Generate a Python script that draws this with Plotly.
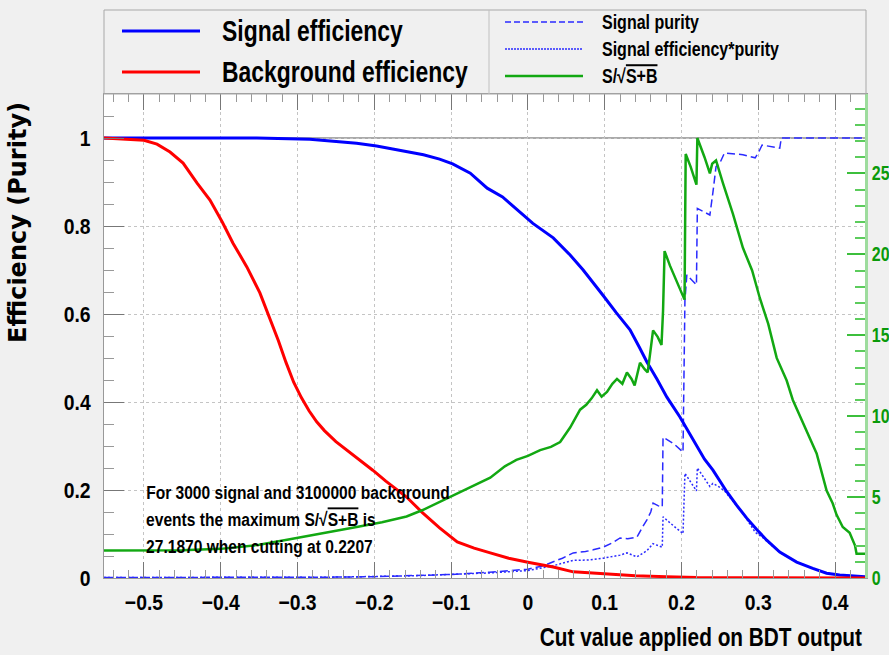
import plotly.graph_objects as go

# ---------------- data ----------------
cut_sig = [-0.552, -0.45, -0.353, -0.284, -0.254, -0.223, -0.197, -0.158, -0.136, -0.115,
           -0.098, -0.075, -0.053, -0.033, -0.010, 0.0065, 0.033, 0.055, 0.072, 0.091,
           0.098, 0.115, 0.133, 0.145, 0.155, 0.168, 0.181, 0.198, 0.210, 0.220,
           0.230, 0.241, 0.250, 0.259, 0.272, 0.285, 0.298, 0.311, 0.328, 0.350,
           0.371, 0.389, 0.406, 0.432, 0.439]
sig_eff = [1.0, 1.0, 1.0, 0.997, 0.993, 0.988, 0.982, 0.969, 0.962, 0.952,
           0.941, 0.920, 0.886, 0.866, 0.832, 0.806, 0.773, 0.734, 0.700, 0.659,
           0.642, 0.603, 0.564, 0.525, 0.491, 0.452, 0.411, 0.366, 0.330, 0.298,
           0.270, 0.245, 0.220, 0.196, 0.165, 0.136, 0.110, 0.086, 0.059, 0.036,
           0.022, 0.011, 0.007, 0.004, 0.003]

cut_bkg = [-0.552, -0.527, -0.50, -0.483, -0.466, -0.449, -0.431, -0.414, -0.398, -0.384,
           -0.366, -0.349, -0.336, -0.325, -0.315, -0.305, -0.295, -0.285, -0.275, -0.265,
           -0.25, -0.235, -0.22, -0.202, -0.185, -0.17, -0.158, -0.137, -0.115, -0.092,
           -0.07, -0.049, -0.025, 0.0, 0.033, 0.059, 0.098, 0.14, 0.18, 0.22,
           0.30, 0.439]
bkg_eff = [1.0, 0.998, 0.995, 0.986, 0.968, 0.943, 0.898, 0.859, 0.809, 0.761,
           0.707, 0.648, 0.591, 0.54, 0.49, 0.445, 0.41, 0.38, 0.355, 0.335,
           0.31, 0.29, 0.27, 0.245, 0.22, 0.20, 0.184, 0.148, 0.114, 0.082,
           0.068, 0.057, 0.045, 0.036, 0.025, 0.014, 0.009, 0.005, 0.003, 0.001,
           0.0005, 0.0]

cut_pur = [-0.552, -0.40, -0.33, -0.25, -0.2, -0.15, -0.10, -0.05, 0.0, 0.02,
           0.033, 0.045, 0.059, 0.075, 0.085, 0.098, 0.11, 0.12, 0.13, 0.142,
           0.15, 0.155, 0.16, 0.163, 0.17, 0.175, 0.176, 0.19, 0.202, 0.2045,
           0.207, 0.2195, 0.2207, 0.237, 0.241, 0.245, 0.25, 0.256, 0.28, 0.296,
           0.300, 0.305, 0.328, 0.330, 0.439]
purity = [0.001, 0.001, 0.0015, 0.002, 0.003, 0.005, 0.008, 0.013, 0.02, 0.028,
          0.036, 0.045, 0.057, 0.06, 0.064, 0.07, 0.08, 0.091, 0.089, 0.093,
          0.118, 0.132, 0.15, 0.17, 0.164, 0.161, 0.32, 0.305, 0.286, 0.63,
          0.689, 0.666, 0.84, 0.825, 0.877, 0.935, 0.943, 0.966, 0.962, 0.955,
          0.966, 0.984, 0.977, 1.0, 1.0]

cut_ep = [-0.552, -0.40, -0.25, -0.15, -0.10, -0.05, 0.0, 0.033, 0.059, 0.08,
          0.098, 0.12, 0.129, 0.142, 0.155, 0.163, 0.175, 0.176, 0.19, 0.202,
          0.2045, 0.2195, 0.2207, 0.237, 0.241, 0.25, 0.256, 0.28, 0.296, 0.305,
          0.328, 0.35, 0.371, 0.389, 0.406, 0.439]
eff_pur = [0.001, 0.001, 0.002, 0.005, 0.0075, 0.0115, 0.017, 0.028, 0.04, 0.041,
           0.045, 0.052, 0.057, 0.048, 0.062, 0.078, 0.07, 0.139, 0.118, 0.101,
           0.238, 0.198, 0.25, 0.208, 0.215, 0.206, 0.198, 0.147, 0.104, 0.093,
           0.058, 0.036, 0.022, 0.011, 0.007, 0.003]

cut_sb = [-0.552, -0.45, -0.40, -0.35, -0.31, -0.28, -0.25, -0.223, -0.19, -0.158,
          -0.137, -0.115, -0.092, -0.07, -0.049, -0.03, -0.015, 0.0, 0.016, 0.03,
          0.042, 0.055, 0.068, 0.076, 0.083, 0.09, 0.096, 0.103, 0.11, 0.116,
          0.123, 0.129, 0.135, 0.139, 0.146, 0.152, 0.156, 0.159, 0.163, 0.169,
          0.174, 0.176, 0.178, 0.185, 0.195, 0.204, 0.2055, 0.212, 0.2195, 0.2207,
          0.230, 0.237, 0.240, 0.245, 0.254, 0.267, 0.280, 0.292, 0.302, 0.313,
          0.324, 0.337, 0.345, 0.363, 0.376, 0.389, 0.397, 0.402, 0.41, 0.419,
          0.426, 0.428, 0.439]
s_sqrt_sb = [1.70, 1.72, 1.80, 2.05, 2.4, 2.65, 2.9, 3.15, 3.45, 3.8,
             4.2, 4.7, 5.25, 5.7, 6.2, 6.9, 7.3, 7.55, 7.9, 8.1,
             8.4, 9.3, 10.4, 10.7, 11.1, 11.6, 11.2, 11.5, 12.0, 12.3,
             12.0, 12.7, 12.3, 11.9, 13.3, 12.9, 12.7, 13.8, 15.3, 14.9,
             14.4, 16.5, 20.2, 19.3, 18.2, 17.2, 26.2, 25.4, 24.3, 27.19,
             26.0, 25.0, 25.6, 25.8, 24.4, 22.5, 20.4, 19.0, 17.3, 15.7,
             13.6, 12.2, 11.0, 9.1, 7.7, 5.4, 4.6, 3.9, 3.15, 2.8,
             2.0, 1.5, 1.5]

max_sb = 27.187
x_range = [-0.552, 0.439]

# ---------------- styling ----------------
# "sqX##" markers tell the small post-script how to condense the text
# (anchor L/R/C, horizontal scale in percent); browsers ignore them as font names.
def fam(tag):
    return "Liberation Sans, Arial, " + tag

WIDE = "DejaVu Sans, Liberation Sans"
GREEN = "#12a812"

fig = go.Figure()
fig.add_trace(go.Scatter(x=cut_pur, y=purity, mode="lines",
                         line=dict(color="#2a2aff", width=1.5, dash="8px,4px")))
fig.add_trace(go.Scatter(x=cut_ep, y=eff_pur, mode="lines",
                         line=dict(color="#2a2aff", width=1.5, dash="2px,2px")))
fig.add_trace(go.Scatter(x=cut_sig, y=sig_eff, mode="lines",
                         line=dict(color="#0000ff", width=3)))
fig.add_trace(go.Scatter(x=cut_bkg, y=bkg_eff, mode="lines",
                         line=dict(color="#ff0000", width=3)))
fig.add_trace(go.Scatter(x=cut_sb, y=s_sqrt_sb, mode="lines", yaxis="y2",
                         line=dict(color=GREEN, width=2.5)))

fig.update_layout(
    width=889, height=655,
    margin=dict(l=104, r=24, t=94, b=77, autoexpand=False),
    paper_bgcolor="#f0f0f0", plot_bgcolor="white",
    showlegend=False,
    xaxis=dict(range=x_range, dtick=0.1, tick0=0, ticks="inside", ticklen=16,
               tickcolor="#777", showline=True, linecolor="#999", linewidth=1,
               mirror="ticks", showgrid=True, gridcolor="#c4c4c4", griddash="dot",
               zeroline=False, automargin=False,
               tickfont=dict(family=fam("sqC88"), size=22, color="black", weight="bold"),
               ticklabelstandoff=5,
               minor=dict(dtick=0.02, ticklen=8, tickcolor="#999", ticks="inside", showgrid=False)),
    yaxis=dict(range=[0, 1.1], dtick=0.2, ticks="inside", ticklen=20,
               tickcolor="#777", showline=True, linecolor="#999", linewidth=1,
               showgrid=True, gridcolor="#c4c4c4", griddash="dot", zeroline=False,
               automargin=False,
               tickfont=dict(family=fam("sqR88"), size=22, color="black", weight="bold"),
               ticklabelstandoff=8,
               minor=dict(dtick=0.05, ticklen=10, tickcolor="#999", ticks="inside", showgrid=False)),
    yaxis2=dict(overlaying="y", side="right", anchor="x", range=[0, max_sb * 1.1],
                dtick=5, ticks="inside", ticklen=18, tickcolor="#3cbf3c", tickwidth=1.5,
                showline=True, linecolor="#9ddc9d", linewidth=2.5, showgrid=False,
                zeroline=False, automargin=False,
                tickfont=dict(family=fam("sqL80"), size=20, color="#0a9a0a", weight="bold"),
                ticklabelstandoff=0,
                minor=dict(dtick=1, ticklen=10, tickcolor="#5ccc5c", ticks="inside")),
)

# line at efficiency = 1
fig.add_shape(type="line", xref="paper", yref="y", x0=0, x1=1, y0=1, y1=1,
              line=dict(color="#555", width=1), layer="between")

# ---------------- legend box (drawn by hand to match) ----------------
def px(xp):
    return (xp - 104) / 761.0

def py(yp):
    return (578 - yp) / 484.0

fig.add_shape(type="rect", xref="paper", yref="paper", x0=0, x1=px(866), y0=1.0, y1=py(10),
              line=dict(color="#a8a8a8", width=1), fillcolor="rgba(0,0,0,0)")
fig.add_shape(type="line", xref="paper", yref="paper", x0=px(489), x1=px(489), y0=1.0, y1=py(10),
              line=dict(color="#c0c0c0", width=1))

legend_items = [
    (py(31), "#0000ff", 3, "solid", "Signal efficiency", 122, 200, 220, 29, "sqL79"),
    (py(72), "#ff0000", 3, "solid", "Background efficiency", 122, 200, 220, 29, "sqL79"),
    (py(22), "#2a2aff", 1.5, "6px,3px", "Signal purity", 505, 583, 600, 20, "sqL80"),
    (py(49), "#2a2aff", 1.5, "2px,1px", "Signal efficiency*purity", 505, 583, 600, 20, "sqL80"),
    (py(76), GREEN, 2.5, "solid", "S/√<span style='text-decoration:overline'>S+B</span>",
     505, 583, 600, 20, "sqL80"),
]
for yv, col, w, dash, label, xa, xb, xt, fs, tag in legend_items:
    fig.add_shape(type="line", xref="paper", yref="paper", x0=px(xa), x1=px(xb), y0=yv, y1=yv,
                  line=dict(color=col, width=w, dash=dash))
    fig.add_annotation(xref="paper", yref="paper", x=px(xt), y=yv, text=label,
                       xanchor="left", yanchor="middle", showarrow=False,
                       font=dict(family=fam(tag), size=fs, color="black", weight="bold"))

# ---------------- info text ----------------
info_lines = [
    "For 3000 signal and 3100000 background",
    "events the maximum S/√<span style='text-decoration:overline'>S+B</span> is",
    "27.1870 when cutting at 0.2207",
]
for i, t in enumerate(info_lines):
    fig.add_annotation(xref="paper", yref="paper", x=px(144), y=py(492 + 27 * i), text=t,
                       xanchor="left", yanchor="middle", showarrow=False,
                       font=dict(family=fam("sqL82"), size=19, color="black", weight="bold"))

# ---------------- axis titles ----------------
fig.add_annotation(xref="paper", yref="paper", x=px(864), y=py(637),
                   text="Cut value applied on BDT output", xanchor="right", yanchor="middle",
                   showarrow=False,
                   font=dict(family=fam("sqR80"), size=26, color="black", weight="bold"))
fig.add_annotation(xref="paper", yref="paper", x=px(18), y=py(223),
                   text="Efficiency (Purity)", textangle=-90, xanchor="center", yanchor="middle",
                   showarrow=False, font=dict(family=WIDE, size=24, color="black", weight="bold"))

squeeze_js = """
var gd = document.getElementById('{plot_id}');
function squeeze() {
  gd.querySelectorAll('text').forEach(function (t) {
    var ff = (t.style && t.style.fontFamily) || t.getAttribute('font-family') || '';
    var m = ff.match(/sq([LRC])(\\d+)/);
    if (!m) return;
    var cur = t.getAttribute('transform') || '';
    if (t.getAttribute('data-sqtr') === cur && cur !== '') return;
    var s = parseInt(m[2], 10) / 100;
    var b = t.getBBox();
    var ax = m[1] === 'L' ? b.x : (m[1] === 'R' ? b.x + b.width : b.x + b.width / 2);
    var nt = cur + ' translate(' + ax + ',0) scale(' + s + ',1) translate(' + (-ax) + ',0)';
    t.setAttribute('transform', nt);
    t.setAttribute('data-sqtr', nt);
  });
}
squeeze();
gd.on('plotly_afterplot', squeeze);
[0, 50, 200, 500, 1000, 2000].forEach(function (d) { setTimeout(squeeze, d); });
"""

fig.write_html("out.html", post_script=squeeze_js)
